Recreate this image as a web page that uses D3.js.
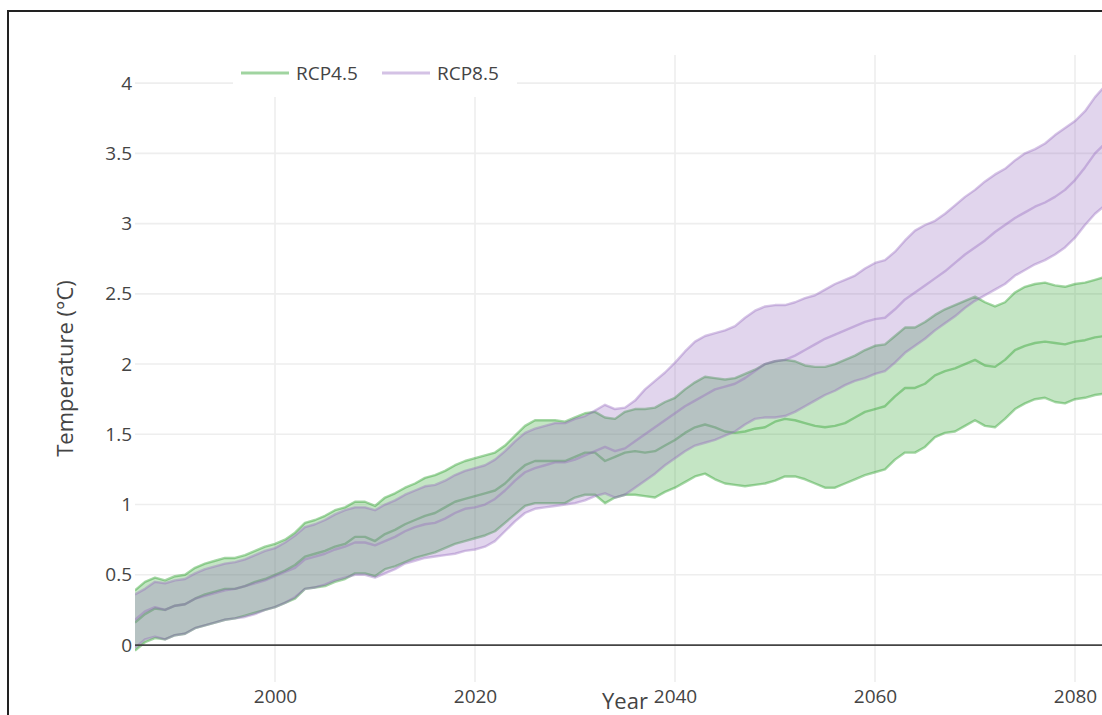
<!DOCTYPE html>
<html><head><meta charset="utf-8">
<script src="https://cdn.jsdelivr.net/npm/d3@7"></script>
<style>html,body{margin:0;padding:0;background:#fff;overflow:hidden}</style>
</head><body><svg id="c" width="1102" height="715"></svg>
<script>
const years = d3.range(1986, 2085);
const rcp45High = [0.39,0.45,0.48,0.46,0.49,0.50,0.55,0.58,0.60,0.62,
0.62,0.64,0.67,0.70,0.72,0.75,0.80,0.87,0.89,0.92,
0.96,0.98,1.02,1.02,0.99,1.05,1.08,1.12,1.15,1.19,
1.21,1.24,1.28,1.31,1.33,1.35,1.37,1.42,1.49,1.56,
1.60,1.60,1.60,1.59,1.62,1.65,1.66,1.62,1.61,1.66,
1.68,1.68,1.69,1.73,1.76,1.82,1.87,1.91,1.90,1.89,
1.90,1.93,1.96,2.00,2.02,2.03,2.02,1.99,1.98,1.98,
2.00,2.03,2.06,2.10,2.13,2.14,2.20,2.26,2.26,2.30,
2.35,2.39,2.42,2.45,2.48,2.44,2.41,2.44,2.51,2.55,
2.57,2.58,2.56,2.55,2.57,2.58,2.60,2.62,2.63];
const rcp45Mid = [0.16,0.22,0.26,0.25,0.28,0.29,0.33,0.36,0.38,0.40,
0.40,0.42,0.45,0.47,0.50,0.53,0.57,0.63,0.65,0.67,
0.70,0.72,0.77,0.77,0.74,0.79,0.82,0.86,0.89,0.92,
0.94,0.98,1.02,1.04,1.06,1.08,1.10,1.15,1.22,1.28,
1.31,1.31,1.31,1.31,1.34,1.37,1.37,1.31,1.34,1.37,
1.38,1.37,1.38,1.42,1.46,1.51,1.55,1.57,1.55,1.52,
1.51,1.52,1.54,1.55,1.59,1.61,1.60,1.58,1.56,1.55,
1.56,1.58,1.62,1.66,1.68,1.70,1.77,1.83,1.83,1.86,
1.92,1.95,1.97,2.00,2.03,1.99,1.98,2.03,2.10,2.13,
2.15,2.16,2.15,2.14,2.16,2.17,2.19,2.20,2.21];
const rcp45Low = [-0.04,0.02,0.05,0.04,0.07,0.08,0.12,0.14,0.16,0.18,
0.19,0.21,0.23,0.25,0.27,0.30,0.33,0.40,0.41,0.42,
0.45,0.47,0.51,0.51,0.49,0.54,0.56,0.59,0.62,0.64,
0.66,0.69,0.72,0.74,0.76,0.78,0.81,0.87,0.93,0.99,
1.01,1.01,1.01,1.01,1.05,1.07,1.07,1.01,1.05,1.07,
1.07,1.06,1.05,1.09,1.12,1.16,1.20,1.22,1.18,1.15,
1.14,1.13,1.14,1.15,1.17,1.20,1.20,1.18,1.15,1.12,
1.12,1.15,1.18,1.21,1.23,1.25,1.32,1.37,1.37,1.41,
1.48,1.51,1.52,1.56,1.60,1.56,1.55,1.61,1.68,1.72,
1.75,1.76,1.73,1.72,1.75,1.76,1.78,1.79,1.80];
const rcp85High = [0.36,0.40,0.45,0.44,0.46,0.47,0.51,0.54,0.56,0.58,
0.59,0.61,0.64,0.67,0.69,0.73,0.78,0.84,0.86,0.89,
0.93,0.96,0.98,0.98,0.96,1.00,1.03,1.07,1.10,1.13,
1.14,1.17,1.21,1.24,1.26,1.28,1.32,1.38,1.45,1.51,
1.54,1.56,1.58,1.58,1.61,1.63,1.67,1.71,1.68,1.69,
1.74,1.82,1.88,1.94,2.01,2.09,2.16,2.20,2.22,2.24,
2.27,2.33,2.38,2.41,2.42,2.42,2.44,2.47,2.49,2.53,
2.57,2.60,2.63,2.68,2.72,2.74,2.80,2.88,2.95,2.99,
3.02,3.07,3.13,3.19,3.24,3.30,3.35,3.39,3.45,3.50,
3.53,3.57,3.63,3.68,3.73,3.80,3.90,3.98,4.03];
const rcp85Mid = [0.18,0.24,0.27,0.25,0.28,0.29,0.33,0.35,0.37,0.39,
0.40,0.42,0.44,0.46,0.49,0.52,0.55,0.61,0.63,0.65,
0.68,0.70,0.73,0.73,0.71,0.74,0.77,0.81,0.84,0.86,
0.87,0.90,0.94,0.97,0.98,1.00,1.04,1.10,1.17,1.23,
1.26,1.28,1.30,1.30,1.32,1.35,1.38,1.41,1.38,1.40,
1.45,1.50,1.55,1.60,1.65,1.70,1.74,1.78,1.82,1.84,
1.86,1.90,1.95,2.00,2.02,2.03,2.06,2.10,2.14,2.18,
2.21,2.24,2.27,2.30,2.32,2.33,2.39,2.46,2.51,2.56,
2.61,2.66,2.72,2.78,2.83,2.88,2.94,2.99,3.04,3.08,
3.12,3.15,3.19,3.24,3.31,3.40,3.50,3.57,3.61];
const rcp85Low = [-0.02,0.04,0.06,0.04,0.07,0.08,0.12,0.14,0.16,0.18,
0.19,0.20,0.22,0.25,0.27,0.30,0.34,0.40,0.41,0.43,
0.46,0.48,0.50,0.50,0.48,0.51,0.54,0.58,0.60,0.62,
0.63,0.64,0.65,0.67,0.68,0.70,0.74,0.81,0.88,0.94,
0.97,0.98,0.99,1.00,1.01,1.03,1.06,1.08,1.05,1.07,
1.12,1.17,1.22,1.28,1.33,1.38,1.42,1.44,1.46,1.49,
1.52,1.57,1.61,1.62,1.62,1.63,1.66,1.70,1.74,1.78,
1.81,1.85,1.88,1.90,1.93,1.95,2.01,2.08,2.13,2.18,
2.24,2.29,2.34,2.40,2.45,2.49,2.53,2.57,2.63,2.67,
2.71,2.74,2.78,2.83,2.90,2.99,3.07,3.13,3.17];
const seriesNames = ["RCP4.5", "RCP8.5"];
const xTickValues = [2000, 2020, 2040, 2060, 2080];
const yTickValues = [0, 0.5, 1, 1.5, 2, 2.5, 3, 3.5, 4];
const xTitle = "Year";
const yTitle = "Temperature (°C)";

const scenarios = [
  {name: seriesNames[0], lo: rcp45Low, mid: rcp45Mid, hi: rcp45High,
   fill: "rgba(44,160,44,0.28)", line: "rgba(44,160,44,0.42)", legend: "rgba(44,160,44,0.45)"},
  {name: seriesNames[1], lo: rcp85Low, mid: rcp85Mid, hi: rcp85High,
   fill: "rgba(148,103,189,0.28)", line: "rgba(148,103,189,0.38)", legend: "rgba(148,103,189,0.4)"}
];

const svg = d3.select("#c");
const L = 135, R = 1115, T = 55, B = 682;
const x = d3.scaleLinear().domain([1986, 2084]).range([L, R]);
const y = d3.scaleLinear().domain([-0.263, 4.2]).range([B, T]);
const font = "'Open Sans', sans-serif";
const textCol = "#444";

// frame
svg.append("rect").attr("x", 8).attr("y", 11).attr("width", 1400).attr("height", 900)
  .attr("fill", "none").attr("stroke", "#222").attr("stroke-width", 2);

const defs = svg.append("defs");
defs.append("clipPath").attr("id", "plotclip").append("rect")
  .attr("x", L).attr("y", T).attr("width", R - L).attr("height", B - T);

// grid
const grid = svg.append("g");
grid.selectAll("line.v").data(xTickValues).join("line")
  .attr("x1", d => x(d)).attr("x2", d => x(d)).attr("y1", T).attr("y2", B)
  .attr("stroke", "#eee").attr("stroke-width", 1.6);
grid.selectAll("line.h").data(yTickValues.filter(d => d !== 0)).join("line")
  .attr("x1", L).attr("x2", R).attr("y1", d => y(d)).attr("y2", d => y(d))
  .attr("stroke", "#eee").attr("stroke-width", 1.6);

// data
const plot = svg.append("g").attr("clip-path", "url(#plotclip)");
scenarios.forEach(s => {
  const area = d3.area().x((d, i) => x(years[i])).y0((d, i) => y(s.lo[i])).y1((d, i) => y(s.hi[i]));
  plot.append("path").datum(years).attr("d", area).attr("fill", s.fill);
  [s.lo, s.mid, s.hi].forEach(arr => {
    const line = d3.line().x((d, i) => x(years[i])).y((d, i) => y(arr[i]));
    plot.append("path").datum(arr).attr("d", line).attr("fill", "none")
      .attr("stroke", s.line).attr("stroke-width", 2.4).attr("stroke-linejoin", "round");
  });
});

// zero line
svg.append("line").attr("x1", L).attr("x2", R).attr("y1", y(0)).attr("y2", y(0))
  .attr("stroke", "#444").attr("stroke-width", 1.8);

// y axis labels
const yAxis = d3.axisLeft(y).tickValues(yTickValues).tickSize(0).tickPadding(3).tickFormat(d3.format("~g"));
const gy = svg.append("g").attr("transform", `translate(${L},0)`).call(yAxis);
gy.select(".domain").remove();
gy.selectAll("text").attr("font-family", font).attr("font-size", 19).attr("fill", textCol);

// x axis labels
const xAxis = d3.axisBottom(x).tickValues(xTickValues).tickSize(0).tickPadding(8).tickFormat(d3.format("d"));
const gx = svg.append("g").attr("transform", `translate(0,${B})`).call(xAxis);
gx.select(".domain").remove();
gx.selectAll("text").attr("font-family", font).attr("font-size", 19).attr("fill", textCol);

// titles
svg.append("text").attr("x", (L + R) / 2).attr("y", 709).attr("text-anchor", "middle")
  .attr("font-family", font).attr("font-size", 22).attr("fill", textCol).text(xTitle);
svg.append("text").attr("transform", `translate(73,${(T + B) / 2}) rotate(-90)`)
  .attr("text-anchor", "middle").attr("font-family", font).attr("font-size", 22)
  .attr("fill", textCol).text(yTitle);

// legend
const lg = svg.append("g");
lg.append("rect").attr("x", 233).attr("y", 50).attr("width", 284).attr("height", 47).attr("fill", "#fff");
const itemX = [233, 374];
scenarios.forEach((s, i) => {
  const g = lg.append("g").attr("transform", `translate(${itemX[i]},73)`);
  g.append("line").attr("x1", 8).attr("x2", 56).attr("y1", 0).attr("y2", 0)
    .attr("stroke", s.legend).attr("stroke-width", 3.2);
  g.append("text").attr("x", 63).attr("y", 7).attr("font-family", font).attr("font-size", 19)
    .attr("fill", textCol).text(s.name);
});
</script></body></html>
